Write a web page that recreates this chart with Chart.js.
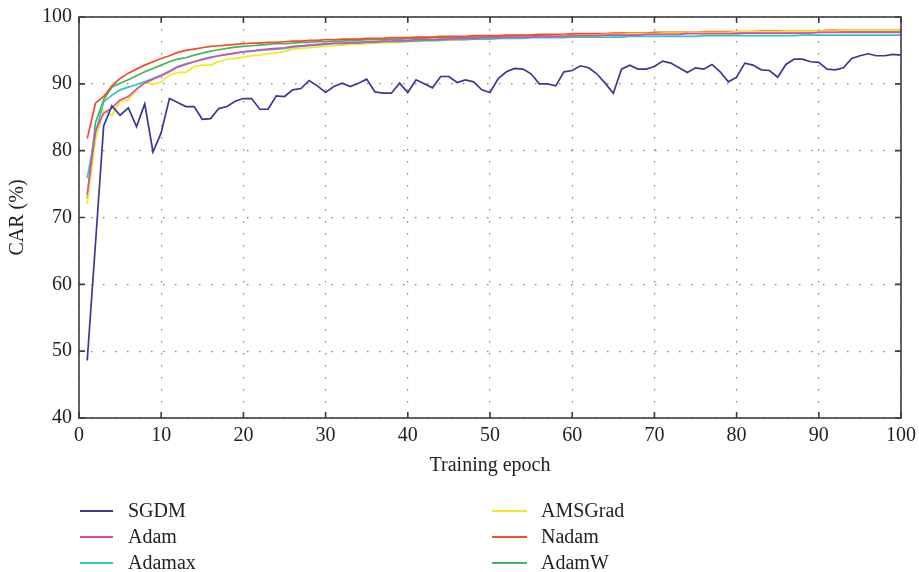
<!DOCTYPE html>
<html>
<head>
<meta charset="utf-8">
<script src="https://cdn.jsdelivr.net/npm/chart.js@4"></script>
<style>
  html, body { margin: 0; padding: 0; background: #fff; }
  #wrap { width: 919px; height: 572px; }
</style>
</head>
<body>
<div id="wrap"><canvas id="carChart" width="919" height="572"></canvas></div>
<script>
// epochs 1..100
const epochs = Array.from({ length: 100 }, (_, i) => i + 1);
const xTicks = [0, 10, 20, 30, 40, 50, 60, 70, 80, 90, 100];
const yTicks = [40, 50, 60, 70, 80, 90, 100];

const sgdm = [
  48.6, 66.0, 83.7, 86.7, 85.3, 86.4, 83.6, 87.0, 79.8, 82.7,
  87.8, 87.2, 86.6, 86.6, 84.7, 84.8, 86.3, 86.6, 87.4, 87.8,
  87.8, 86.2, 86.2, 88.2, 88.1, 89.1, 89.3, 90.5, 89.7, 88.7,
  89.6, 90.1, 89.6, 90.1, 90.7, 88.8, 88.6, 88.6, 90.1, 88.7,
  90.6, 90.0, 89.4, 91.1, 91.1, 90.2, 90.6, 90.3, 89.1, 88.7,
  90.8, 91.8, 92.3, 92.2, 91.5, 90.0, 90.0, 89.7, 91.8, 92.0,
  92.7, 92.4, 91.5, 90.1, 88.6, 92.2, 92.8, 92.2, 92.2, 92.6,
  93.4, 93.1, 92.4, 91.7, 92.4, 92.2, 92.9, 91.8, 90.3, 91.0,
  93.1, 92.8, 92.1, 92.0, 91.0, 92.9, 93.7, 93.7, 93.3, 93.2,
  92.2, 92.1, 92.4, 93.8, 94.2, 94.5, 94.2, 94.2, 94.4, 94.3
];
const adam = [
  73.5, 83.0, 85.6, 86.4, 87.6, 88.1, 89.2, 90.1, 90.7, 91.2,
  91.8, 92.5, 92.9, 93.3, 93.6, 93.9, 94.2, 94.4, 94.6, 94.8,
  94.9, 95.1, 95.2, 95.3, 95.4, 95.6, 95.7, 95.8, 95.9, 96.0,
  96.1, 96.1, 96.2, 96.2, 96.3, 96.3, 96.4, 96.4, 96.5, 96.5,
  96.6, 96.6, 96.6, 96.7, 96.7, 96.8, 96.8, 96.8, 96.9, 96.9,
  96.9, 97.0, 97.0, 97.0, 97.0, 97.1, 97.1, 97.1, 97.1, 97.2,
  97.2, 97.2, 97.2, 97.3, 97.3, 97.3, 97.3, 97.3, 97.4, 97.4,
  97.4, 97.4, 97.4, 97.5, 97.5, 97.5, 97.5, 97.5, 97.5, 97.5,
  97.6, 97.6, 97.6, 97.6, 97.6, 97.6, 97.6, 97.6, 97.6, 97.7,
  97.7, 97.7, 97.7, 97.7, 97.7, 97.7, 97.7, 97.7, 97.7, 97.7
];
const adamax = [
  75.9, 82.6, 87.3, 88.3, 89.1, 89.5, 89.9, 90.3, 90.8, 91.3,
  91.9, 92.6, 93.0, 93.3, 93.7, 94.0, 94.2, 94.4, 94.6, 94.8,
  94.9, 95.0, 95.1, 95.2, 95.3, 95.5, 95.6, 95.7, 95.8, 95.9,
  96.0, 96.0, 96.1, 96.1, 96.2, 96.2, 96.3, 96.3, 96.3, 96.4,
  96.4, 96.5, 96.5, 96.5, 96.6, 96.6, 96.6, 96.7, 96.7, 96.7,
  96.8, 96.8, 96.8, 96.8, 96.9, 96.9, 96.9, 96.9, 96.9, 97.0,
  97.0, 97.0, 97.0, 97.0, 97.0, 97.0, 97.1, 97.1, 97.1, 97.1,
  97.1, 97.1, 97.1, 97.1, 97.1, 97.2, 97.2, 97.2, 97.2, 97.2,
  97.2, 97.2, 97.2, 97.2, 97.2, 97.2, 97.2, 97.3, 97.3, 97.3,
  97.3, 97.3, 97.3, 97.3, 97.3, 97.3, 97.3, 97.3, 97.3, 97.3
];
const amsgrad = [
  72.0, 81.6, 86.1, 85.3, 87.4, 87.6, 89.1, 90.3, 89.9, 90.3,
  91.3, 91.7, 91.7, 92.6, 92.8, 92.8, 93.3, 93.7, 93.8, 94.0,
  94.2, 94.3, 94.5, 94.6, 94.9, 95.2, 95.3, 95.4, 95.5, 95.6,
  95.7, 95.8, 95.9, 95.9, 96.0, 96.1, 96.1, 96.2, 96.2, 96.3,
  96.3, 96.4, 96.4, 96.5, 96.5, 96.6, 96.6, 96.7, 96.7, 96.8,
  96.8, 96.9, 96.9, 97.0, 97.0, 97.0, 97.1, 97.1, 97.2, 97.2,
  97.3, 97.3, 97.3, 97.4, 97.4, 97.4, 97.5, 97.5, 97.5, 97.5,
  97.6, 97.6, 97.6, 97.6, 97.7, 97.7, 97.7, 97.7, 97.7, 97.8,
  97.8, 97.8, 97.8, 97.8, 97.8, 97.9, 97.9, 97.9, 97.9, 97.9,
  97.9, 97.9, 98.0, 98.0, 98.0, 98.0, 98.0, 98.0, 98.0, 98.0
];
const nadam = [
  81.8, 87.1, 88.1, 89.7, 90.8, 91.6, 92.2, 92.8, 93.3, 93.8,
  94.2, 94.7, 95.0, 95.2, 95.4, 95.6, 95.7, 95.8, 95.9, 96.0,
  96.1, 96.1, 96.2, 96.2, 96.3, 96.4, 96.4, 96.5, 96.5, 96.6,
  96.6, 96.7, 96.7, 96.7, 96.8, 96.8, 96.8, 96.9, 96.9, 96.9,
  97.0, 97.0, 97.0, 97.1, 97.1, 97.1, 97.1, 97.2, 97.2, 97.2,
  97.2, 97.3, 97.3, 97.3, 97.3, 97.4, 97.4, 97.4, 97.4, 97.5,
  97.5, 97.5, 97.5, 97.5, 97.6, 97.6, 97.6, 97.6, 97.6, 97.7,
  97.7, 97.7, 97.7, 97.7, 97.7, 97.8, 97.8, 97.8, 97.8, 97.8,
  97.8, 97.8, 97.9, 97.9, 97.9, 97.9, 97.9, 97.9, 97.9, 97.9,
  98.0, 98.0, 98.0, 98.0, 98.0, 98.0, 98.0, 98.0, 98.0, 98.0
];
const adamw = [
  72.8, 84.2, 87.6, 89.5, 90.1, 90.6, 91.2, 91.8, 92.3, 92.8,
  93.3, 93.7, 93.9, 94.3, 94.6, 94.9, 95.1, 95.3, 95.5, 95.6,
  95.7, 95.8, 95.9, 96.0, 96.0, 96.1, 96.2, 96.2, 96.3, 96.3,
  96.4, 96.4, 96.5, 96.5, 96.6, 96.6, 96.6, 96.7, 96.7, 96.8,
  96.8, 96.8, 96.9, 96.9, 96.9, 97.0, 97.0, 97.0, 97.0, 97.1,
  97.1, 97.1, 97.2, 97.2, 97.2, 97.2, 97.3, 97.3, 97.3, 97.3,
  97.4, 97.4, 97.4, 97.4, 97.4, 97.5, 97.5, 97.5, 97.5, 97.5,
  97.6, 97.6, 97.6, 97.6, 97.6, 97.6, 97.7, 97.7, 97.7, 97.7,
  97.7, 97.7, 97.8, 97.8, 97.8, 97.8, 97.8, 97.8, 97.8, 97.8,
  97.9, 97.9, 97.9, 97.9, 97.9, 97.9, 97.9, 97.9, 97.9, 97.9
];

const seriesNames = ['SGDM', 'Adam', 'Adamax', 'AMSGrad', 'Nadam', 'AdamW'];
const seriesData = [sgdm, adam, adamax, amsgrad, nadam, adamw];
const seriesColors = ['#3b3697', '#d64db6', '#2fc3c6', '#f6e71f', '#f14c2b', '#46b45a'];

const FONT = "'Liberation Serif', 'DejaVu Serif', serif";

// frame + inward tick marks, matlab style
const framePlugin = {
  id: 'frame',
  afterDraw(chart) {
    const { ctx, chartArea: a, scales } = chart;
    ctx.save();
    ctx.strokeStyle = '#3c3c3c';
    ctx.lineWidth = 1.6;
    ctx.strokeRect(a.left, a.top, a.right - a.left, a.bottom - a.top);
    const len = 6;
    ctx.beginPath();
    xTicks.forEach(v => {
      const px = scales.x.getPixelForValue(v);
      ctx.moveTo(px, a.bottom); ctx.lineTo(px, a.bottom - len);
      ctx.moveTo(px, a.top); ctx.lineTo(px, a.top + len);
    });
    yTicks.forEach(v => {
      const py = scales.y.getPixelForValue(v);
      ctx.moveTo(a.left, py); ctx.lineTo(a.left + len, py);
      ctx.moveTo(a.right, py); ctx.lineTo(a.right - len, py);
    });
    ctx.stroke();
    ctx.restore();
  }
};

// two-column legend under the axis
const legendPlugin = {
  id: 'colLegend',
  afterDraw(chart) {
    const { ctx } = chart;
    const rows = [511, 537, 563];
    const cols = [{ x0: 80, x1: 113, tx: 128 }, { x0: 492, x1: 527, tx: 541 }];
    ctx.save();
    ctx.font = '20px ' + FONT;
    ctx.textBaseline = 'middle';
    ctx.fillStyle = '#222';
    chart.data.datasets.forEach((ds, i) => {
      const c = cols[Math.floor(i / 3)];
      const y = rows[i % 3];
      ctx.strokeStyle = ds.borderColor;
      ctx.lineWidth = 1.8;
      ctx.beginPath();
      ctx.moveTo(c.x0, y); ctx.lineTo(c.x1, y);
      ctx.stroke();
      ctx.fillText(ds.label, c.tx, y + 1);
    });
    ctx.restore();
  }
};

new Chart(document.getElementById('carChart'), {
  type: 'line',
  data: {
    labels: epochs,
    datasets: seriesNames.map((name, i) => ({
      label: name,
      data: seriesData[i],
      borderColor: seriesColors[i],
      backgroundColor: seriesColors[i],
      borderWidth: 1.7,
      pointRadius: 0,
      tension: 0,
      fill: false
    }))
  },
  options: {
    responsive: false,
    animation: false,
    layout: { padding: { left: 0, top: 17, right: 18, bottom: 94 } },
    plugins: {
      legend: { display: false },
      tooltip: { enabled: false }
    },
    scales: {
      x: {
        type: 'linear',
        min: 0,
        max: 100,
        afterFit(scale) {
          scale.height = 60;
          scale.paddingLeft = 0;
          scale.paddingRight = 0;
        },
        afterBuildTicks(scale) { scale.ticks = xTicks.map(v => ({ value: v })); },
        ticks: { color: '#222', font: { family: FONT, size: 20 }, padding: 6, maxRotation: 0 },
        grid: { color: '#808080', lineWidth: 1.2, drawTicks: false },
        border: { display: false, dash: [1.5, 10.5] },
        title: {
          display: true,
          text: 'Training epoch',
          color: '#222',
          font: { family: FONT, size: 20 },
          padding: { top: 0, bottom: 0 }
        }
      },
      y: {
        min: 40,
        max: 100,
        afterFit(scale) {
          scale.width = 79;
          scale.paddingTop = 0;
          scale.paddingBottom = 0;
        },
        afterBuildTicks(scale) { scale.ticks = yTicks.map(v => ({ value: v })); },
        ticks: { color: '#222', font: { family: FONT, size: 20 }, padding: 7 },
        grid: { color: '#808080', lineWidth: 1.2, drawTicks: false },
        border: { display: false, dash: [1.5, 10.5] },
        title: {
          display: true,
          text: 'CAR (%)',
          color: '#222',
          font: { family: FONT, size: 20 },
          padding: { top: 6, bottom: 0 }
        }
      }
    }
  },
  plugins: [framePlugin, legendPlugin]
});
</script>
</body>
</html>
